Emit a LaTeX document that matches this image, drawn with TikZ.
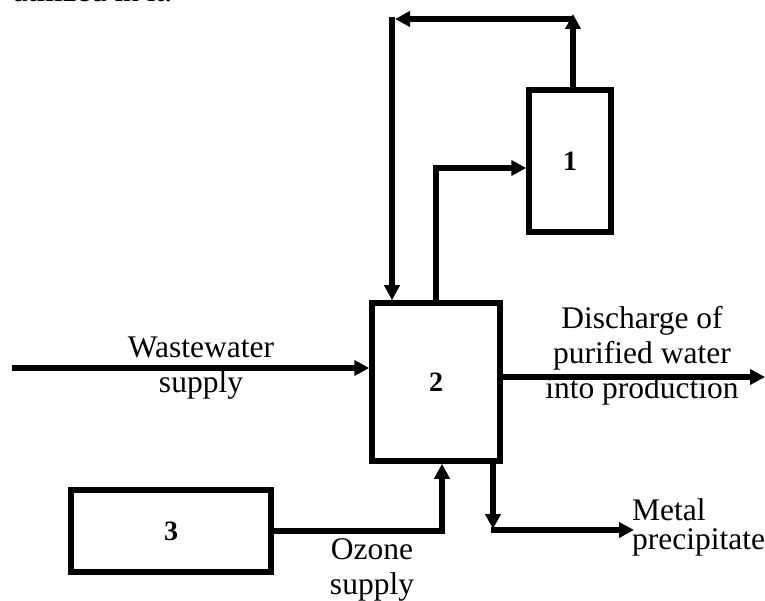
\documentclass[tikz,border=0pt]{standalone}
\usepackage{fontspec}
\setmainfont{Liberation Serif}
\usetikzlibrary{arrows.meta}
\begin{document}
\begin{tikzpicture}[x=1pt,y=-1pt,
  box/.style={draw,line width=5.5pt,inner sep=0pt,font=\fontsize{28}{30}\selectfont\bfseries},
  arr/.style={line width=5.5pt,-{Triangle[length=15pt,width=15pt]}},
  lbl/.style={font=\fontsize{31.5}{35}\selectfont,inner sep=0pt,align=center}]
\useasboundingbox (0,0) rectangle (765,601);
\clip (0,0) rectangle (765,601);
% cut-off caption fragment at the top
\node[anchor=base west,inner sep=0pt,font=\fontsize{31.5}{35}\selectfont] (frag) at (12,2) {utilized in it.};
% boxes
\node[box,minimum width=82pt,minimum height=142pt] (b1) at (570,161) {1};
\node[box,minimum width=128pt,minimum height=158pt] (b2) at (436,382) {2};
\node[box,minimum width=200pt,minimum height=82pt] (b3) at (171,531) {3};
% helper coordinates
\coordinate (tr) at (573,19);
\coordinate (tl) at (392,19);
\coordinate (win) at (12,368);
\coordinate (dout) at (765,377);
\coordinate (mc) at (493,530);
\coordinate (mend) at (634,530);
% recycle loop
\draw[arr] (b1.north -| tr) -- ([yshift=5pt]tr);
\draw[arr] (tr) -- ([xshift=3pt]tl);
\draw[arr] ([yshift=2pt]tl) -- (b2.north -| tl);
% 2 -> 1
\draw[arr] (b2.north) |- ([yshift=-7pt]b1.west);
% wastewater
\draw[arr] (win) -- (win -| b2.west);
% discharge
\draw[arr] (b2.east |- dout) -- (dout);
% ozone
\draw[arr] (b3.east) -| ([xshift=6pt]b2.south);
% metal
\draw[arr] (b2.south -| mc) -- ([yshift=1pt]mc);
\draw[arr] ([xshift=-2.5pt]mc) -- (mend);
% labels (base anchor = baseline of last line)
\node[lbl,anchor=base] (lw) at (201,392) {Wastewater\\supply};
\node[lbl,anchor=base] (ld) at (642,398) {Discharge of\\purified water\\into production};
\node[lbl,anchor=base] (lo) at (372,594) {Ozone\\supply};
\node[lbl,anchor=base west,align=left,font=\fontsize{31.5}{29}\selectfont] (lm) at (632,549) {Metal\\precipitate};
\end{tikzpicture}
\end{document}
